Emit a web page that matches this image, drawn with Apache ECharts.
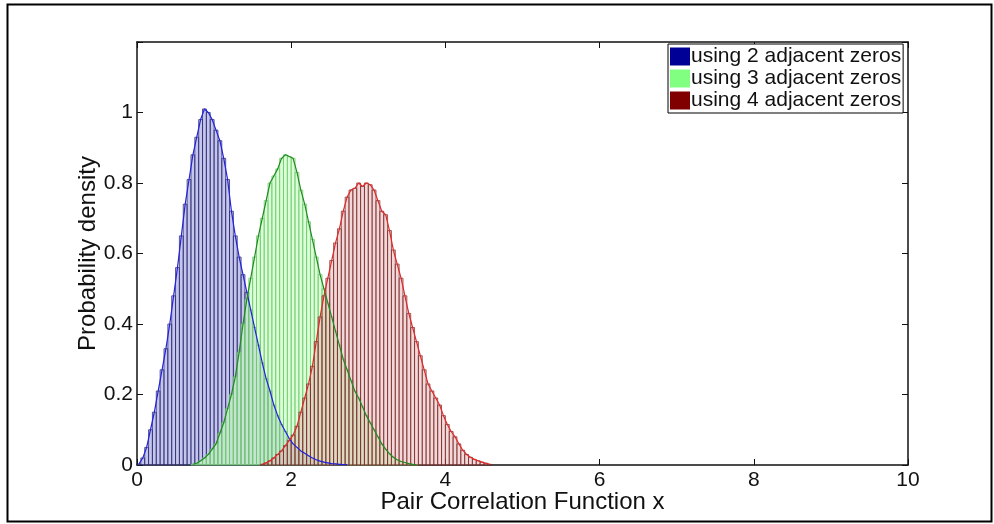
<!DOCTYPE html>
<html>
<head>
<meta charset="utf-8">
<script src="https://cdn.jsdelivr.net/npm/echarts@6/dist/echarts.min.js"></script>
<style>
html,body{margin:0;padding:0;background:#fff;}
#chart{width:994px;height:524px;}
</style>
</head>
<body>
<div id="chart"></div>
<script>
// ---- data ----
const binWidth = 0.05;
const seriesNames = ['using 2 adjacent zeros', 'using 3 adjacent zeros', 'using 4 adjacent zeros'];
const xTicks = [0, 2, 4, 6, 8, 10];
const yTicks = [0, 0.2, 0.4, 0.6, 0.8, 1];

// first bin centre of each histogram
const blueStart = 0.025;
const blueValues = [0.003,0.02,0.05,0.10,0.15,0.21,0.27,0.33,0.40,0.48,0.56,0.65,0.74,0.81,0.88,0.93,0.98,1.01,1.0,0.98,
  0.95,0.92,0.87,0.81,0.72,0.65,0.59,0.54,0.49,0.44,0.39,0.34,0.29,0.245,0.21,0.17,0.14,0.115,0.095,0.075,
  0.06,0.05,0.04,0.033,0.026,0.02,0.015,0.011,0.008,0.006,0.004,0.003,0.002,0.001,0.001];

const greenStart = 0.725;
const greenValues = [0.002,0.005,0.012,0.02,0.03,0.045,0.06,0.09,0.12,0.16,0.20,0.25,0.32,0.40,0.47,0.53,0.59,0.65,0.70,0.75,
  0.80,0.82,0.84,0.87,0.88,0.875,0.87,0.83,0.78,0.74,0.69,0.64,0.59,0.54,0.50,0.46,0.42,0.38,0.34,0.30,
  0.27,0.24,0.21,0.19,0.165,0.14,0.12,0.10,0.08,0.06,0.045,0.032,0.022,0.015,0.01,0.007,0.004,0.002,0.001];

const redStart = 1.625;
const redValues = [0.002,0.006,0.012,0.02,0.03,0.04,0.055,0.07,0.085,0.11,0.15,0.19,0.23,0.28,0.35,0.42,0.48,0.53,0.58,0.63,
  0.67,0.72,0.76,0.78,0.785,0.80,0.79,0.80,0.795,0.78,0.75,0.72,0.71,0.665,0.61,0.57,0.53,0.48,0.43,0.39,
  0.35,0.31,0.27,0.23,0.21,0.19,0.17,0.14,0.115,0.095,0.08,0.06,0.042,0.03,0.022,0.016,0.012,0.008,0.005,0.002];

// ---- build ----
function pairs(start, vals){ return vals.map((v,i)=>[Math.round((start+i*binWidth)*1000)/1000, v]); }

const styles = [
  {legend:'#000096', fill:'rgba(120,120,210,0.42)', edge:'rgba(40,40,110,0.75)', line:'#2222dd'},
  {legend:'#80ff80', fill:'rgba(190,255,180,0.55)', edge:'rgba(110,200,110,0.8)', line:'#208a20'},
  {legend:'#800000', fill:'rgba(225,170,170,0.45)', edge:'rgba(120,30,30,0.7)', line:'#e02828'}
];
const datasets = [pairs(blueStart, blueValues), pairs(greenStart, greenValues), pairs(redStart, redValues)];

function barSeries(idx){
  const st = styles[idx];
  return {
    name: seriesNames[idx],
    type: 'custom',
    xAxisIndex: 0, yAxisIndex: 0,
    color: st.legend,
    itemStyle: {color: st.legend},
    encode: {x: 0, y: 1},
    data: datasets[idx],
    z: 2,
    renderItem: function(params, api){
      const c = api.value(0), v = api.value(1);
      const p0 = api.coord([c - binWidth/2, v]);
      const p1 = api.coord([c + binWidth/2, 0]);
      return {
        type: 'rect',
        shape: {x: p0[0], y: p0[1], width: p1[0]-p0[0], height: p1[1]-p0[1]},
        style: {fill: st.fill, stroke: st.edge, lineWidth: 1}
      };
    }
  };
}
function lineSeries(idx){
  const st = styles[idx];
  return {
    name: seriesNames[idx] + ' outline',
    type: 'line',
    data: datasets[idx],
    showSymbol: false,
    symbol: 'none',
    lineStyle: {color: st.line, width: 1.2},
    z: 5,
    silent: true
  };
}

const chart = echarts.init(document.getElementById('chart'));
const font = 'Liberation Sans, Arial, Helvetica, sans-serif';
chart.setOption({
  animation: false,
  backgroundColor: '#fff',
  textStyle: {fontFamily: font},
  grid: {left: 137, right: 86, top: 42, bottom: 59},
  legend: {
    orient: 'vertical',
    left: 668, top: 44,
    data: seriesNames.map((n,i)=>({name: n, icon: 'rect', itemStyle: {color: styles[i].legend}})),
    itemWidth: 20, itemHeight: 18, itemGap: 1,
    padding: [2, 2, 2, 2],
    borderColor: '#000', borderWidth: 1, backgroundColor: '#fff',
    textStyle: {fontSize: 21, color: '#111', fontFamily: font, padding: [0,0,0,-4]},
    selectedMode: false
  },
  xAxis: [{
    type: 'value', min: 0, max: 10, interval: 2, position: 'bottom',
    name: 'Pair Correlation Function x', nameLocation: 'middle', nameGap: 25,
    nameMoveOverlap: false,
    nameTextStyle: {fontSize: 24, color: '#111', fontFamily: font},
    axisLine: {show: true, onZero: false, lineStyle: {color: '#111', width: 1.5}},
    axisTick: {show: true, inside: true, length: 6, lineStyle: {color: '#111'}},
    axisLabel: {fontSize: 21, color: '#111', margin: 5,
      formatter: v => xTicks.includes(v) ? String(v) : ''},
    splitLine: {show: false}
  },{
    type: 'value', min: 0, max: 10, interval: 2, position: 'top',
    axisLine: {show: true, onZero: false, lineStyle: {color: '#111', width: 1.5}},
    axisTick: {show: true, inside: true, length: 6, lineStyle: {color: '#111'}},
    axisLabel: {show: false}, splitLine: {show: false}
  }],
  yAxis: [{
    type: 'value', min: 0, max: 1.2, interval: 0.2, position: 'left',
    name: 'Probability density', nameLocation: 'middle', nameGap: 37,
    nameMoveOverlap: false,
    nameTextStyle: {fontSize: 24, color: '#111', fontFamily: font},
    axisLine: {show: true, onZero: false, lineStyle: {color: '#111', width: 1.5}},
    axisTick: {show: true, inside: true, length: 6, lineStyle: {color: '#111'}},
    axisLabel: {fontSize: 21, color: '#111', margin: 4,
      formatter: v => { const r = Math.round(v*10)/10; return yTicks.includes(r) ? String(r) : ''; }},
    splitLine: {show: false}
  },{
    type: 'value', min: 0, max: 1.2, interval: 0.2, position: 'right',
    axisLine: {show: true, onZero: false, lineStyle: {color: '#111', width: 1.5}},
    axisTick: {show: true, inside: true, length: 6, lineStyle: {color: '#111'}},
    axisLabel: {show: false}, splitLine: {show: false}
  }],
  graphic: [{
    type: 'rect', left: 5, top: 2, z: 100, silent: true,
    shape: {width: 984, height: 517},
    style: {fill: 'none', stroke: '#000', lineWidth: 2}
  }],
  series: [barSeries(0), barSeries(1), barSeries(2), lineSeries(0), lineSeries(1), lineSeries(2)]
});
</script>
</body>
</html>
